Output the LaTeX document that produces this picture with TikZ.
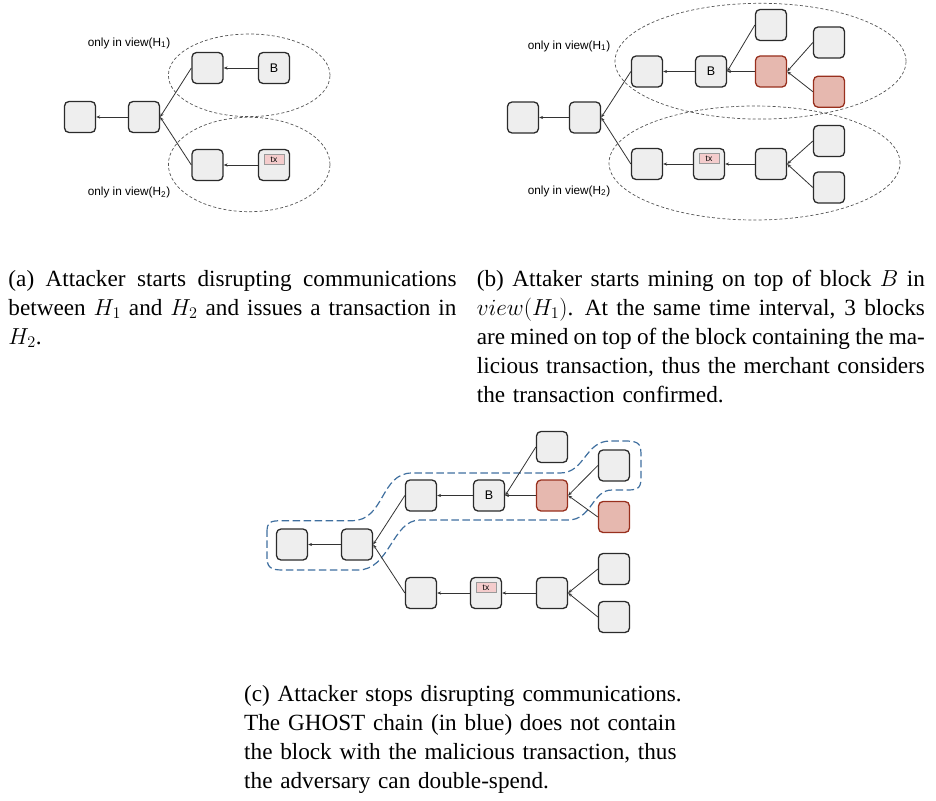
\documentclass[tikz,border=0pt]{standalone}
\usepackage{fix-cm}
\usepackage[no-math]{fontspec}
\setmainfont{Liberation Serif}
\newfontfamily\diagfont{Liberation Sans}
\usetikzlibrary{arrows.meta}

\definecolor{blockfill}{HTML}{EEEEEE}
\definecolor{blockline}{HTML}{2B2B2B}
\definecolor{minedfill}{HTML}{E6B8AF}
\definecolor{minedline}{HTML}{98301E}
\definecolor{tagfill}{HTML}{F4CCCC}
\definecolor{tagline}{HTML}{9A9A9A}
\definecolor{ghostblue}{HTML}{3F6F9F}
\definecolor{viewline}{HTML}{555555}
\definecolor{linkline}{HTML}{333333}

% one justified caption line, spaces stretched or squeezed to the full width
\newcommand\justline[1]{\makebox[448pt][s]{\spaceskip=0.25em plus 0.4em minus 0.17em\relax #1}}

\begin{document}
\begin{tikzpicture}[x=1pt,y=-1pt,
  blockbox/.style={draw=blockline, fill=blockfill, line width=1.3pt, rounded corners=4.5pt,
    minimum size=31pt, inner sep=0pt, font=\diagfont\fontsize{12.5}{14}\selectfont},
  minedbox/.style={blockbox, draw=minedline, fill=minedfill},
  txtag/.style={draw=tagline, fill=tagfill, line width=0.6pt, minimum width=20pt,
    minimum height=10pt, inner sep=0pt, font=\diagfont\fontsize{8.5}{9}\selectfont},
  link/.style={draw=linkline, line width=0.8pt, -{Stealth[length=4pt,width=3.2pt]}},
  viewarea/.style={draw=viewline, line width=0.7pt, dash pattern=on 3pt off 2.2pt},
  ghost/.style={draw=ghostblue, line width=1.2pt, dash pattern=on 7.5pt off 3.5pt},
  viewlabel/.style={font=\diagfont\fontsize{11.8}{14}\selectfont, anchor=base, inner sep=0pt},
  caption/.style={anchor=base west, inner sep=0pt, align=left,
    font=\fontsize{23.2}{29}\selectfont}
]
\useasboundingbox (0,0) rectangle (936,800);

% ---------- (a) network split ----------
\draw[viewarea] (249.2,75.3) ellipse [x radius=80.8pt, y radius=41.3pt];
\draw[viewarea] (249.2,164.5) ellipse [x radius=80.8pt, y radius=47.2pt];
\node[viewlabel] (alab1) at (129,46) {only in view(H\textsubscript{1})};
\node[viewlabel] (alab2) at (129,195.7) {only in view(H\textsubscript{2})};

\node[blockbox] (a1) at (80,117) {};
\node[blockbox] (a2) at (144,117) {};
\node[blockbox] (a3) at (207.5,68) {};
\node[blockbox] (aB) at (274,68) {B};
\node[blockbox] (a4) at (207.5,165) {};
\node[blockbox] (atx) at (274,165) {};
\node[txtag] (atxl) at ([yshift=5.5pt]atx.center) {tx};

\draw[link] (a2.west) -- (a1.east);
\draw[link] (a3.west) -- (a2.east);
\draw[link] (a4.west) -- (a2.east);
\draw[link] (aB.west) -- (a3.east);
\draw[link] (atx.west) -- (a4.east);

% ---------- (b) both forks grow ----------
\draw[viewarea] (760.5,61.2) ellipse [x radius=145.5pt, y radius=57.9pt];
\draw[viewarea] (754.5,163) ellipse [x radius=145.5pt, y radius=57pt];
\node[viewlabel] (blab1) at (569,49) {only in view(H\textsubscript{1})};
\node[viewlabel] (blab2) at (569,194) {only in view(H\textsubscript{2})};

\node[blockbox] (b1) at (523,117.5) {};
\node[blockbox] (b2) at (585,117.5) {};
\node[blockbox] (b3) at (647,71.5) {};
\node[blockbox] (bB) at (711,71.5) {B};
\node[minedbox] (bR) at (771,71.5) {};
\node[blockbox] (bT) at (771,25) {};
\node[blockbox] (bR1) at (829,42.5) {};
\node[minedbox] (bR2) at (829,91.7) {};
\node[blockbox] (b4) at (647,164) {};
\node[blockbox] (btx) at (709,164) {};
\node[txtag] (btxl) at ([yshift=5.5pt]btx.center) {tx};
\node[blockbox] (b5) at (771,164) {};
\node[blockbox] (b6) at (829,141) {};
\node[blockbox] (b7) at (829,187.5) {};

\draw[link] (b2.west) -- (b1.east);
\draw[link] (b3.west) -- (b2.east);
\draw[link] (b4.west) -- (b2.east);
\draw[link] (bB.west) -- (b3.east);
\draw[link] (bR.west) -- (bB.east);
\draw[link] (bT.west) -- (bB.east);
\draw[link] (bR1.west) -- (bR.east);
\draw[link] (bR2.west) -- (bR.east);
\draw[link] (btx.west) -- (b4.east);
\draw[link] (b5.west) -- (btx.east);
\draw[link] (b6.west) -- (b5.east);
\draw[link] (b7.west) -- (b5.east);

% ---------- (c) merged view with the GHOST chain ----------
\draw[ghost] (267,532) .. controls (267,522) and (270,520.7) .. (282,520.7)
  -- (352,520.7) .. controls (385,520.7) and (380,473) .. (412,473)
  -- (560,473) .. controls (585,473) and (585,441) .. (610,441)
  -- (625,441) .. controls (641,441) and (641,445) .. (641,458)
  -- (641,478) .. controls (641,490) and (636,490) .. (625,490)
  -- (612,490) .. controls (592,490) and (592,520) .. (568,520)
  -- (420,520) .. controls (392,520) and (390,570) .. (358,570)
  -- (282,570) .. controls (269,570) and (267,566) .. (267,556) -- cycle;

\node[blockbox] (c1) at (292,544.5) {};
\node[blockbox] (c2) at (357,544.5) {};
\node[blockbox] (c3) at (421,495.5) {};
\node[blockbox] (cB) at (489,495.5) {B};
\node[minedbox] (cR) at (552,495.5) {};
\node[blockbox] (cT) at (552,447) {};
\node[blockbox] (cR1) at (614,465.5) {};
\node[minedbox] (cR2) at (614,517) {};
\node[blockbox] (c4) at (421,593) {};
\node[blockbox] (ctx) at (486,593) {};
\node[txtag] (ctxl) at ([yshift=5.5pt]ctx.center) {tx};
\node[blockbox] (c5) at (552,593) {};
\node[blockbox] (c6) at (614,569) {};
\node[blockbox] (c7) at (614,617) {};

\draw[link] (c2.west) -- (c1.east);
\draw[link] (c3.west) -- (c2.east);
\draw[link] (c4.west) -- (c2.east);
\draw[link] (cB.west) -- (c3.east);
\draw[link] (cR.west) -- (cB.east);
\draw[link] (cT.west) -- (cB.east);
\draw[link] (cR1.west) -- (cR.east);
\draw[link] (cR2.west) -- (cR.east);
\draw[link] (ctx.west) -- (c4.east);
\draw[link] (c5.west) -- (ctx.east);
\draw[link] (c6.west) -- (c5.east);
\draw[link] (c7.west) -- (c5.east);

% ---------- captions ----------
\node[caption, text width=448pt] (capa) at (8.3,286) {%
  \justline{(a) Attacker starts disrupting communications}\\
  \justline{between $H_1$ and $H_2$ and issues a transaction in}\\
  $H_2$.};
\node[caption, text width=448pt] (capb) at (476.7,286) {%
  \justline{(b) Attaker starts mining on top of block $B$ in}\\
  \justline{$view(H_1)$. At the same time interval, 3 blocks}\\
  \justline{are mined on top of the block containing the ma-}\\
  \justline{licious transaction, thus the merchant considers}\\
  the transaction confirmed.};
\node[caption, text width=450pt] (capc) at (244,701.7) {%
  (c) Attacker stops disrupting communications.\\
  The GHOST chain (in blue) does not contain\\
  the block with the malicious transaction, thus\\
  the adversary can double-spend.};
\end{tikzpicture}
\end{document}
